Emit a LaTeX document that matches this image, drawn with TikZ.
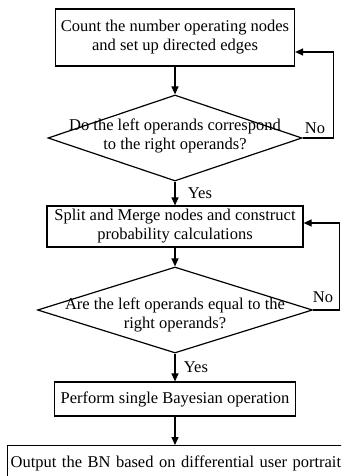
\documentclass[tikz,border=0pt]{standalone}
\usepackage{fontspec}
\setmainfont{Liberation Serif}
\usetikzlibrary{shapes.geometric,arrows.meta,calc}

\begin{document}
\begin{tikzpicture}[x=1pt,y=-1pt,>={Triangle[length=8pt,width=7pt]},
  every node/.style={font=\fontsize{16.5}{19}\selectfont},
  block/.style={draw,line width=1.2pt,align=center,inner sep=0pt},
  decision/.style={draw,diamond,line width=1.2pt,inner sep=0pt},
  flow/.style={line width=1.2pt,->}]
\useasboundingbox (0,0) rectangle (341,476);
\clip (0,0) rectangle (341,476);

\node[block,minimum width=239pt,minimum height=57pt] (count) at (175,37.5) {Count the number operating nodes\\and set up directed edges};
\node[decision,minimum width=254pt,minimum height=86pt] (corr) at (175,138) {};
\node[align=center] (corrtext) at ($(corr)+(0,-2)$) {Do the left operands correspond\\to the right operands?};
\node[block,minimum width=256pt,minimum height=41pt] (split) at (175,226.5) {Split and Merge nodes and construct\\probability calculations};
\node[decision,minimum width=275pt,minimum height=86pt] (equal) at (175,310) {};
\node[align=center] (equaltext) at ($(equal)+(0,5)$) {Are the left operands equal to the\\right operands?};
\node[block,minimum width=241pt,minimum height=34pt] (single) at (175,399) {Perform single Bayesian operation};
\node[block,anchor=north west,inner sep=3pt,text width=345pt,align=left,minimum height=36pt] (output) at (7,445) {Output the BN based on differential user portrait};

\coordinate (in1) at ($(count.east)+(0,14.5)$);
\coordinate (in2) at ($(split.east)+(0,-3.5)$);

\draw[flow] (count.south) -- (corr.north);
\draw[flow] (corr.south) -- node[right,xshift=9pt]{Yes} (split.north);
\draw[flow] (corr.east) -- node[above,pos=0.4]{No} ++(31,0) |- (in1);
\draw[flow] (split.south) -- (equal.north);
\draw[flow] (equal.south) -- node[right,xshift=5pt]{Yes} (single.north);
\draw[flow] (equal.east) -- node[above=3pt,pos=0.38]{No} ++(26,0) |- (in2);
\draw[flow] (single.south) -- (single.south |- output.north);

\end{tikzpicture}
\end{document}
